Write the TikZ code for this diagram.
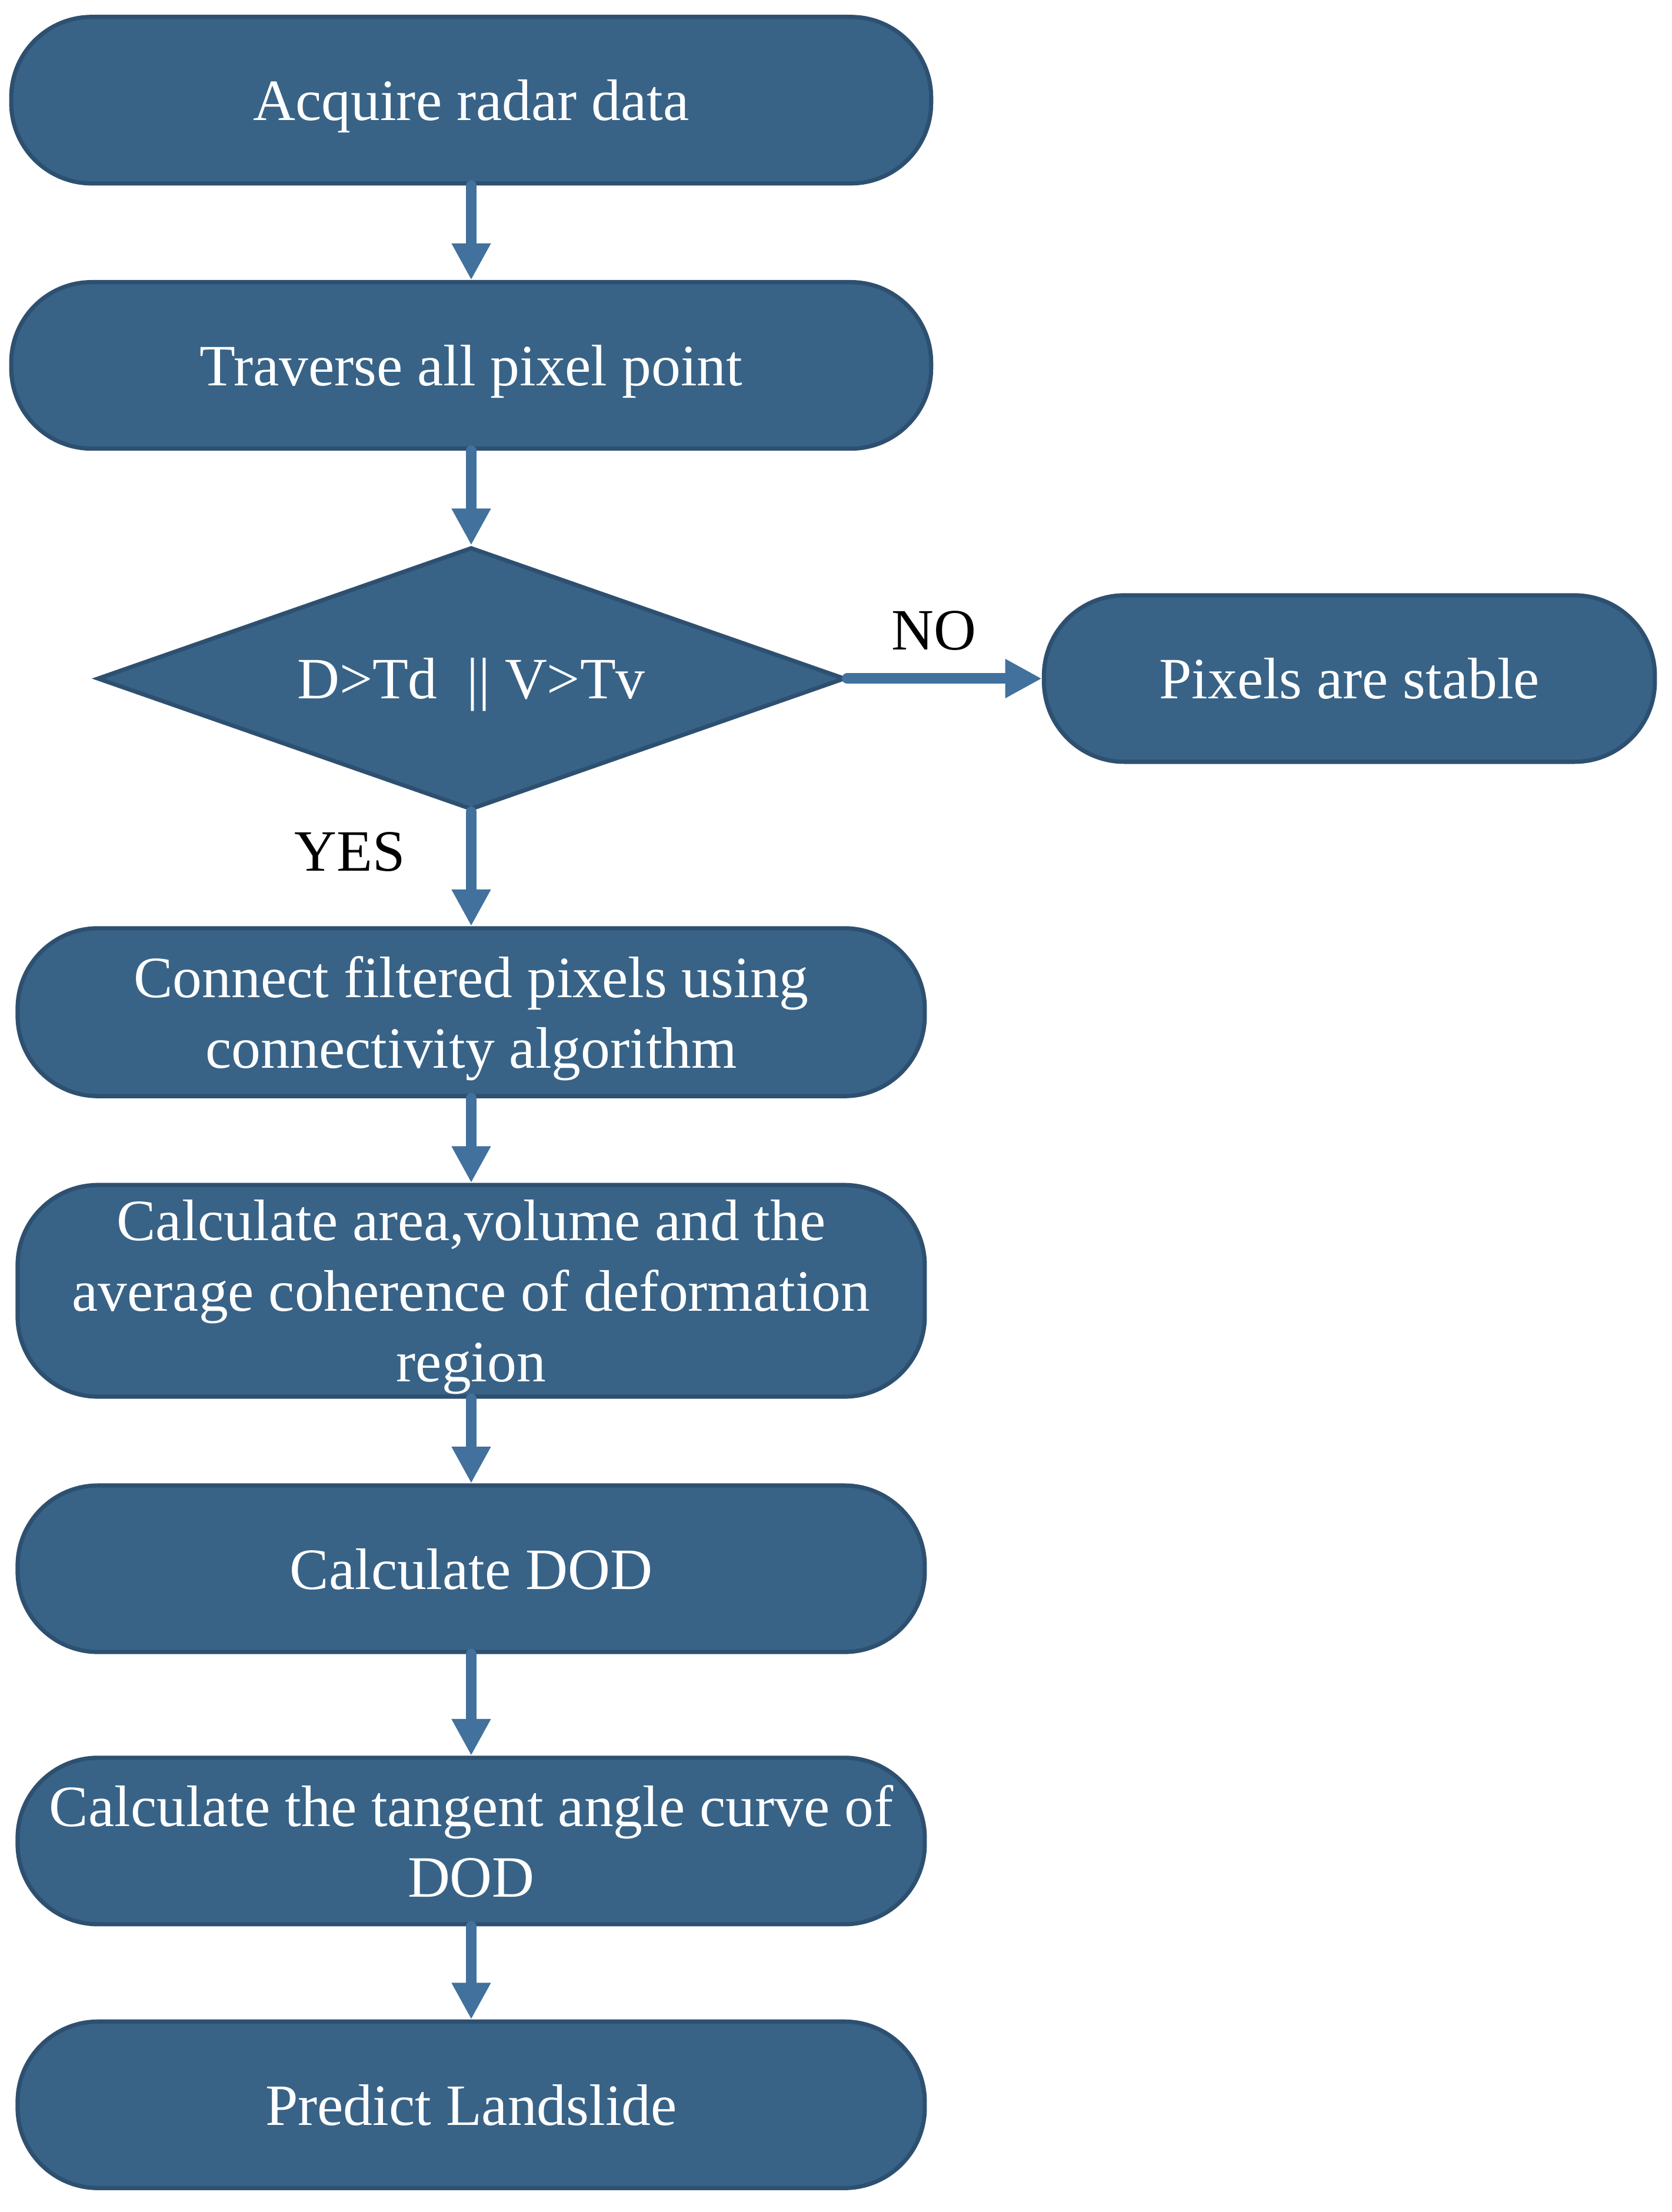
\documentclass[tikz,border=0pt]{standalone}
\usepackage{fontspec}
\setmainfont{Liberation Serif}
\usetikzlibrary{arrows.meta,shapes.geometric}
\definecolor{boxfill}{RGB}{56,99,135}
\definecolor{boxline}{RGB}{46,80,112}
\definecolor{arrowc}{RGB}{65,113,156}
\begin{document}
\begin{tikzpicture}[x=1pt,y=1pt,
 every node/.style={font=\fontsize{41.5}{50}\selectfont},
 term/.style={draw=boxline, fill=boxfill, line width=3pt, rounded corners=57pt, text=white, align=center, minimum height=118pt, inner sep=0pt, text depth=0pt},
 decision/.style={diamond, shape aspect=2.85, draw=boxline, fill=boxfill, line width=3pt, text=white, minimum width=530pt, minimum height=186pt, inner sep=0pt, text depth=0pt},
 flow/.style={draw=arrowc, line width=7.5pt, line cap=round, -{Triangle[length=26pt,width=26pt]}},
 lbl/.style={text=black, inner sep=0pt}]
\useasboundingbox (0,0) rectangle (1185,-1568);
\node[term, minimum width=652pt] (b1) at (334,-71) {Acquire radar data};
\node[term, minimum width=652pt] (b2) at (334,-259) {Traverse all pixel point};
\node[decision] (d) at (334,-481) {D>Td\ \ || V>Tv};
\node[term, minimum width=433pt] (st) at (956.5,-481) {Pixels are stable};
\node[term, minimum width=643pt, minimum height=119pt] (b3) at (334,-717.5) {Connect filtered pixels using\\connectivity algorithm};
\node[term, minimum width=643pt, minimum height=150pt] (b4) at (334,-915) {Calculate area,volume and the\\average coherence of deformation\\region};
\node[term, minimum width=643pt] (b5) at (334,-1112) {Calculate DOD};
\node[term, minimum width=643pt] (b6) at (334,-1305) {Calculate the tangent angle curve of\\DOD};
\node[term, minimum width=643pt] (b7) at (334,-1492) {Predict Landslide};
\node[lbl] (no) at (662,-447) {NO};
\node[lbl] (yes) at (248,-604) {YES};
\draw[flow] (b1.south) -- (b2.north);
\draw[flow] (b2.south) -- (d.north);
\draw[flow] (d.east) -- (st.west);
\draw[flow] (d.south) -- (b3.north);
\draw[flow] (b3.south) -- (b4.north);
\draw[flow] (b4.south) -- (b5.north);
\draw[flow] (b5.south) -- (b6.north);
\draw[flow] (b6.south) -- (b7.north);
\end{tikzpicture}
\end{document}
